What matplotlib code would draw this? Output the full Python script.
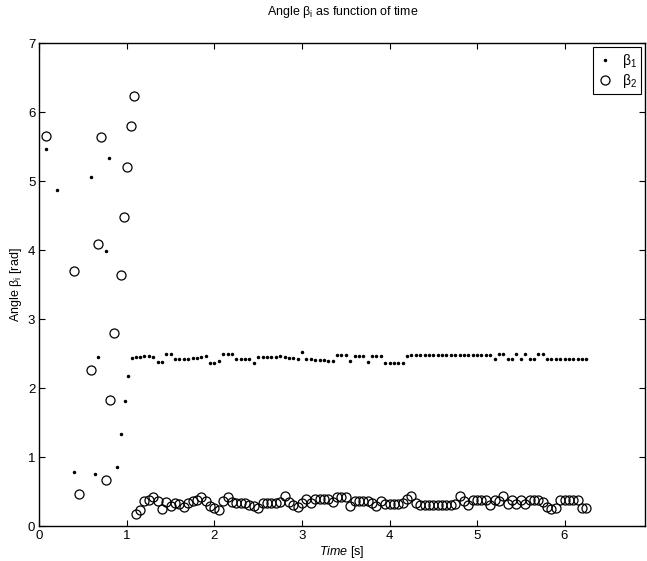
import numpy as np
import matplotlib
matplotlib.use('Agg')
import matplotlib.pyplot as plt

plt.rcParams['font.family'] = ['Liberation Sans', 'DejaVu Sans']
plt.rcParams['mathtext.fontset'] = 'custom'
plt.rcParams['mathtext.rm'] = 'Liberation Sans'
plt.rcParams['mathtext.it'] = 'Liberation Sans:italic'
plt.rcParams['mathtext.default'] = 'regular'

# transient part (variable step), beta_1
t1_start = [0.074, 0.20, 0.40, 0.585, 0.635, 0.673, 0.76, 0.795, 0.89, 0.93, 0.975, 1.016, 1.055]
b1_start = [5.46, 4.87, 0.79, 5.06, 0.76, 2.45, 3.99, 5.33, 0.86, 1.34, 1.82, 2.18, 2.44]

# transient part, beta_2
t2_start = [0.074, 0.395, 0.448, 0.593, 0.673, 0.707, 0.76, 0.807, 0.85, 0.93, 0.97, 0.997, 1.047, 1.085]
b2_start = [5.65, 3.70, 0.46, 2.26, 4.09, 5.64, 0.67, 1.83, 2.80, 3.64, 4.48, 5.20, 5.80, 6.23]

# steady part, fixed step
t_ss = [1.10, 1.15, 1.20, 1.25, 1.30, 1.35, 1.40, 1.45, 1.50, 1.55,
        1.60, 1.65, 1.70, 1.75, 1.80, 1.85, 1.90, 1.95, 2.00, 2.05,
        2.10, 2.15, 2.20, 2.25, 2.30, 2.35, 2.40, 2.45, 2.50, 2.55,
        2.60, 2.65, 2.70, 2.75, 2.80, 2.85, 2.90, 2.95, 3.00, 3.05,
        3.10, 3.15, 3.20, 3.25, 3.30, 3.35, 3.40, 3.45, 3.50, 3.55,
        3.60, 3.65, 3.70, 3.75, 3.80, 3.85, 3.90, 3.95, 4.00, 4.05,
        4.10, 4.15, 4.20, 4.25, 4.30, 4.35, 4.40, 4.45, 4.50, 4.55,
        4.60, 4.65, 4.70, 4.75, 4.80, 4.85, 4.90, 4.95, 5.00, 5.05,
        5.10, 5.15, 5.20, 5.25, 5.30, 5.35, 5.40, 5.45, 5.50, 5.55,
        5.60, 5.65, 5.70, 5.75, 5.80, 5.85, 5.90, 5.95, 6.00, 6.05,
        6.10, 6.15, 6.20, 6.25]

b1_ss = [2.45, 2.45, 2.46, 2.46, 2.45, 2.38, 2.38, 2.50, 2.49, 2.42,
         2.42, 2.43, 2.43, 2.44, 2.44, 2.45, 2.46, 2.37, 2.37, 2.39,
         2.49, 2.50, 2.50, 2.43, 2.43, 2.42, 2.42, 2.36, 2.45, 2.45,
         2.45, 2.45, 2.45, 2.46, 2.45, 2.44, 2.44, 2.43, 2.52, 2.42,
         2.42, 2.41, 2.41, 2.41, 2.40, 2.40, 2.48, 2.48, 2.48, 2.39,
         2.47, 2.47, 2.47, 2.38, 2.46, 2.47, 2.46, 2.37, 2.37, 2.37,
         2.37, 2.37, 2.47, 2.48, 2.48, 2.48, 2.48, 2.48, 2.48, 2.48,
         2.48, 2.48, 2.48, 2.48, 2.48, 2.48, 2.48, 2.48, 2.48, 2.48,
         2.48, 2.48, 2.42, 2.49, 2.49, 2.42, 2.42, 2.50, 2.42, 2.50,
         2.42, 2.42, 2.50, 2.50, 2.42, 2.42, 2.42, 2.42, 2.42, 2.42,
         2.42, 2.42, 2.42, 2.42]

b2_ss = [0.18, 0.24, 0.36, 0.38, 0.42, 0.36, 0.25, 0.35, 0.30, 0.33,
         0.32, 0.28, 0.33, 0.37, 0.38, 0.43, 0.37, 0.30, 0.27, 0.24,
         0.37, 0.42, 0.35, 0.34, 0.33, 0.33, 0.31, 0.30, 0.27, 0.33,
         0.34, 0.34, 0.34, 0.35, 0.44, 0.35, 0.31, 0.28, 0.34, 0.39,
         0.33, 0.39, 0.40, 0.40, 0.39, 0.35, 0.42, 0.43, 0.42, 0.30,
         0.37, 0.37, 0.37, 0.37, 0.33, 0.30, 0.36, 0.32, 0.32, 0.32,
         0.32, 0.33, 0.40, 0.44, 0.33, 0.31, 0.31, 0.31, 0.31, 0.31,
         0.31, 0.31, 0.31, 0.32, 0.44, 0.37, 0.31, 0.38, 0.38, 0.38,
         0.38, 0.31, 0.38, 0.37, 0.44, 0.32, 0.38, 0.32, 0.38, 0.32,
         0.38, 0.38, 0.38, 0.35, 0.28, 0.25, 0.26, 0.38, 0.38, 0.38,
         0.38, 0.38, 0.26, 0.26]

t1 = np.array(t1_start + t_ss)
b1 = np.array(b1_start + b1_ss)
t2 = np.array(t2_start + t_ss)
b2 = np.array(b2_start + b2_ss)

fig = plt.figure(figsize=(6.47, 5.61), dpi=100)
ax = fig.add_axes([0.061, 0.062, 0.936, 0.861])

ax.plot(t1, b1, linestyle='none', marker='.', color='black', markersize=3, label=r'$\beta_1$')
ax.plot(t2, b2, linestyle='none', marker='o', markerfacecolor='none', markeredgecolor='black',
        markersize=6.5, markeredgewidth=0.9, label=r'$\beta_2$')

ax.set_xlim(0, 6.92)
ax.set_ylim(0, 7)
ax.set_xticks(range(0, 7))
ax.set_yticks(range(0, 8))
ax.tick_params(direction='in', top=True, right=True, labelsize=9.5, length=4, width=0.8, pad=3)
for s in ax.spines.values():
    s.set_linewidth(1.0)

ax.set_title(r'Angle $\beta_i$ as function of time', fontsize=9, pad=20)
ax.set_xlabel(r'$\it{Time}$ [s]', fontsize=9, labelpad=1)
ax.set_ylabel(r'Angle $\beta_i$ [rad]', fontsize=9, labelpad=3)

leg = ax.legend(loc='upper right', fontsize=10, handlelength=1.2, handletextpad=0.6,
                borderpad=0.3, labelspacing=0.2, fancybox=False, framealpha=1,
                edgecolor='black', borderaxespad=0.3)
leg.get_frame().set_linewidth(0.8)

fig.savefig('out.png', dpi=100)
